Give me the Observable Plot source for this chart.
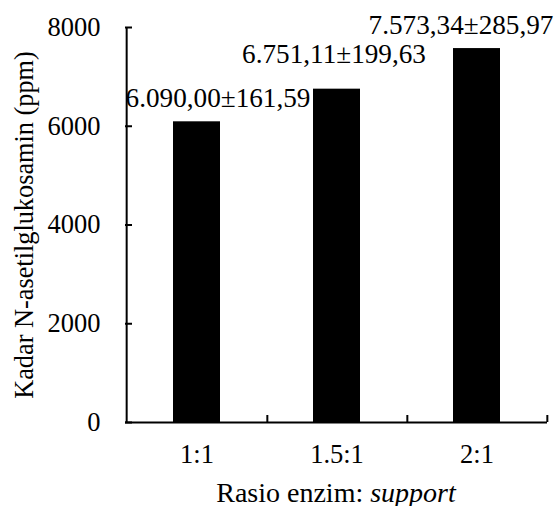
<!DOCTYPE html>
<html><head><meta charset="utf-8">
<script src="https://cdn.jsdelivr.net/npm/d3@7"></script>
<script src="https://cdn.jsdelivr.net/npm/@observablehq/plot@0.6"></script>
<style>body{margin:0;background:#fff} svg, svg text{font-family:"Liberation Serif","Times New Roman",serif !important;}</style>
</head><body><div id="chart"></div>
<script>
const categories = ["1:1", "1.5:1", "2:1"];
const means = [6090.00, 6751.11, 7573.34];
const sds = [161.59, 199.63, 285.97];
const yTicks = [0, 2000, 4000, 6000, 8000];
const yLabel = "Kadar N-asetilglukosamin (ppm)";
const xLabelPlain = "Rasio enzim:\u00a0";
const xLabelItalic = "support";

const idFmt = d3.formatLocale({decimal: ",", thousands: ".", grouping: [3], currency: ["", ""]}).format(",.2f");
const data = categories.map((c, i) => ({cat: c, mean: means[i], sd: sds[i], label: idFmt(means[i]) + "±" + idFmt(sds[i])}));

const W = 555, H = 506, mL = 125, mR = 8, mT = 27, mB = 84;
const fw = W - mL - mR, fh = H - mT - mB, step = fw / categories.length;
const fs = 26.5;
const offsets = [[21, -23.5], [-3, -35], [-16, -23.3]];

const plot = Plot.plot({
  width: W, height: H, marginLeft: mL, marginRight: mR, marginTop: mT, marginBottom: mB,
  style: {fontFamily: "Liberation Serif", fontSize: fs + "px", background: "#fff", color: "#000"},
  x: {type: "band", domain: categories, paddingInner: 2/3, paddingOuter: 1/3},
  y: {domain: [0, 8000]},
  marks: [
    Plot.barY(data, {x: "cat", y: "mean", fill: "#000"}),
    Plot.axisY({ticks: yTicks, tickSize: 0, tickPadding: 25, tickFormat: d => String(d), label: null}),
    Plot.axisX({tickSize: 0, tickPadding: 21.5, label: null}),
    Plot.ruleY([0], {strokeWidth: 2}),
    Plot.ruleX([categories[0]], {x: d => d, dx: -step / 2, strokeWidth: 2}),
    Plot.ruleY(yTicks, {y: d => d, insetRight: fw - 7, strokeWidth: 2}),
    Plot.ruleX(categories, {x: d => d, dx: step / 2, insetTop: fh - 7, strokeWidth: 2}),
    ...data.map((d, i) => Plot.text([d], {x: "cat", y: "mean", text: "label", dx: offsets[i][0], dy: offsets[i][1], fill: "#000", fontSize: 27.2})),
    Plot.text([yLabel], {frameAnchor: "left", textAnchor: "middle", rotate: -90, dx: -101, text: d => d, fill: "#000", fontSize: 26.3})
  ]
});
const svg = d3.select(plot);
const t = svg.append("text")
  .attr("x", mL + fw / 2).attr("y", 501.5)
  .attr("text-anchor", "middle").attr("fill", "#000").attr("font-size", 28);
t.append("tspan").text(xLabelPlain);
t.append("tspan").attr("font-style", "italic").text(xLabelItalic);
document.getElementById("chart").appendChild(plot);
</script>
</body></html>
